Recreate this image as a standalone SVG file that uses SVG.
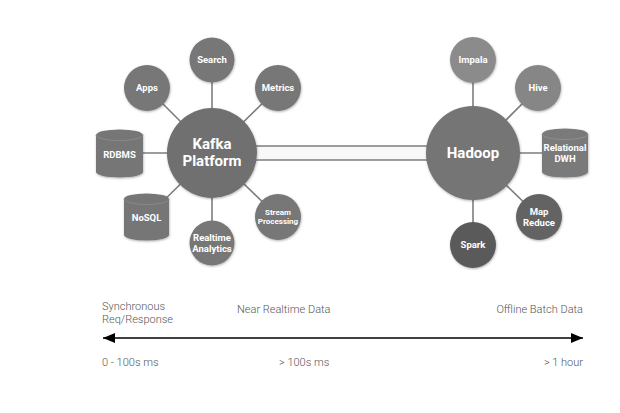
<svg xmlns="http://www.w3.org/2000/svg" width="620" height="413" viewBox="0 0 620 413">
<style>
.lbl{font-family:Roboto,"Liberation Sans",sans-serif;font-weight:bold;fill:#fff;text-anchor:middle}
.s{font-size:9.5px}
.xs{font-size:8px}
.big{font-size:15px}
.ax{font-family:Roboto,"Liberation Sans",sans-serif;font-weight:300;font-size:11px;fill:#555}
.ln{stroke:#7d7d7d;stroke-width:1.6;fill:none}
</style>
<defs>
<filter id="sh" x="-20%" y="-20%" width="140%" height="140%">
<feDropShadow dx="0.5" dy="1" stdDeviation="1.2" flood-color="#000" flood-opacity="0.3"/>
</filter>
<marker id="ah" viewBox="0 0 12 10" refX="12" refY="5" markerWidth="12" markerHeight="10" markerUnits="userSpaceOnUse" orient="auto-start-reverse">
<path d="M0,0 L12,5 L0,10 z" fill="#000"/>
</marker>
</defs>
<rect width="620" height="413" fill="#fff"/>
<g id="connectors">
<rect x="255" y="146" width="175" height="14" fill="#f8f8f8"/>
<line class="ln" x1="255" y1="146" x2="430" y2="146"/>
<line class="ln" x1="255" y1="160" x2="430" y2="160"/>
<line class="ln" x1="212" y1="153" x2="212" y2="60"/>
<line class="ln" x1="212" y1="153" x2="147" y2="88"/>
<line class="ln" x1="212" y1="153" x2="278" y2="88"/>
<line class="ln" x1="212" y1="153" x2="120" y2="153"/>
<line class="ln" x1="212" y1="153" x2="147" y2="217"/>
<line class="ln" x1="212" y1="153" x2="278" y2="217"/>
<line class="ln" x1="212" y1="153" x2="212" y2="243"/>
<line class="ln" x1="473" y1="153" x2="473" y2="60"/>
<line class="ln" x1="473" y1="153" x2="538" y2="88"/>
<line class="ln" x1="473" y1="153" x2="565" y2="153"/>
<line class="ln" x1="473" y1="153" x2="539" y2="217"/>
<line class="ln" x1="473" y1="153" x2="473" y2="245"/>
</g>
<g id="kafka"><circle cx="212" cy="153" r="45" fill="#6f6f6f" filter="url(#sh)"/><text class="lbl big" x="212" y="149">Kafka</text><text class="lbl big" x="212" y="166">Platform</text></g>
<g id="search"><circle cx="212" cy="60" r="22.5" fill="#777" filter="url(#sh)"/><text class="lbl s" x="212" y="63">Search</text></g>
<g id="apps"><circle cx="147" cy="88" r="23" fill="#777" filter="url(#sh)"/><text class="lbl s" x="147" y="91">Apps</text></g>
<g id="metrics"><circle cx="278" cy="88" r="23" fill="#777" filter="url(#sh)"/><text class="lbl s" x="278" y="91">Metrics</text></g>
<g id="rdbms"><path d="M96,135 a23.5,5.5 0 0 1 47,0 v37 a23.5,5.5 0 0 1 -47,0 z" fill="#767676" filter="url(#sh)"/><path d="M96,135 a23.5,5.5 0 0 0 47,0" fill="none" stroke="#8a8a8a" stroke-width="1"/><text class="lbl s" x="119.5" y="158">RDBMS</text></g>
<g id="nosql"><path d="M124,199 a22.5,5.5 0 0 1 45,0 v36 a22.5,5.5 0 0 1 -45,0 z" fill="#767676" filter="url(#sh)"/><path d="M124,199 a22.5,5.5 0 0 0 45,0" fill="none" stroke="#8a8a8a" stroke-width="1"/><text class="lbl s" x="146.5" y="221">NoSQL</text></g>
<g id="stream"><circle cx="278" cy="217" r="23" fill="#777" filter="url(#sh)"/><text class="lbl xs" x="278" y="215">Stream</text><text class="lbl xs" x="278" y="224">Processing</text></g>
<g id="realtime"><circle cx="212" cy="243" r="22.5" fill="#777" filter="url(#sh)"/><text class="lbl s" x="212" y="241">Realtime</text><text class="lbl s" x="212" y="252">Analytics</text></g>
<g id="hadoop"><circle cx="473" cy="153" r="47" fill="#747474" filter="url(#sh)"/><text class="lbl big" x="473" y="158">Hadoop</text></g>
<g id="impala"><circle cx="473" cy="60" r="23" fill="#8b8b8b" filter="url(#sh)"/><text class="lbl s" x="473" y="63">Impala</text></g>
<g id="hive"><circle cx="538" cy="88" r="23" fill="#868686" filter="url(#sh)"/><text class="lbl s" x="538" y="91">Hive</text></g>
<g id="dwh"><path d="M542,134 a23,5.5 0 0 1 46,0 v38 a23,5.5 0 0 1 -46,0 z" fill="#7a7a7a" filter="url(#sh)"/><path d="M542,134 a23,5.5 0 0 0 46,0" fill="none" stroke="#8e8e8e" stroke-width="1"/><text class="lbl s" x="565" y="151">Relational</text><text class="lbl s" x="565" y="162">DWH</text></g>
<g id="mapreduce"><circle cx="539" cy="217" r="23" fill="#636363" filter="url(#sh)"/><text class="lbl s" x="539" y="215">Map</text><text class="lbl s" x="539" y="226">Reduce</text></g>
<g id="spark"><circle cx="473" cy="245" r="23" fill="#5a5a5a" filter="url(#sh)"/><text class="lbl s" x="473" y="248">Spark</text></g>
<g id="axis">
<line x1="103" y1="338" x2="583" y2="338" stroke="#000" stroke-width="1.5" marker-start="url(#ah)" marker-end="url(#ah)"/>
<text class="ax" x="102" y="310">Synchronous</text>
<text class="ax" x="102" y="323">Req/Response</text>
<text class="ax" x="237" y="313">Near Realtime Data</text>
<text class="ax" x="583" y="313" text-anchor="end">Offline Batch Data</text>
<text class="ax" x="102" y="366">0 - 100s ms</text>
<text class="ax" x="279" y="366">&gt; 100s ms</text>
<text class="ax" x="583" y="366" text-anchor="end">&gt; 1 hour</text>
</g>
</svg>
